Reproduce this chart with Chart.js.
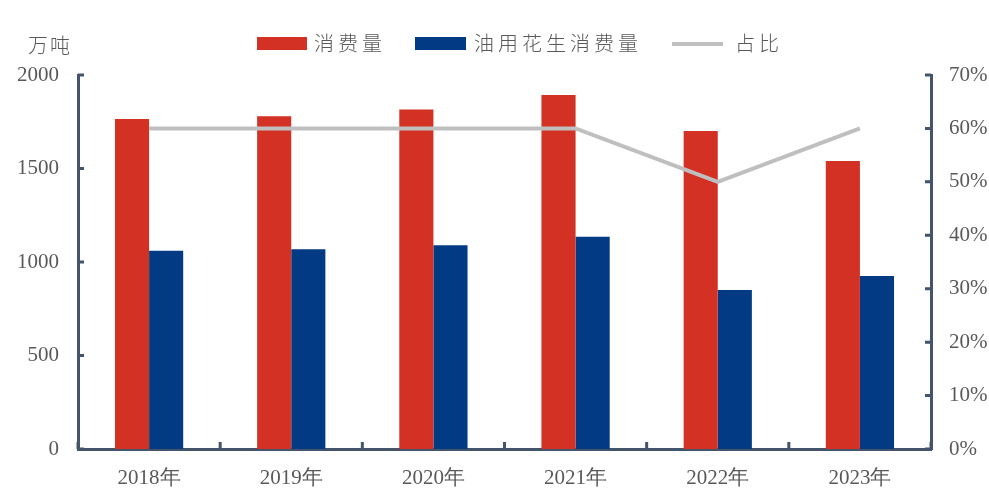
<!DOCTYPE html>
<html>
<head>
<meta charset="utf-8">
<script src="https://cdn.jsdelivr.net/npm/chart.js@4/dist/chart.umd.min.js"></script>
<style>
  html, body { margin: 0; padding: 0; background: #fff; }
  #wrap { position: relative; width: 989px; height: 492px; }
  .lbl { position: absolute; font-family: "Noto Sans CJK SC", sans-serif; font-weight: 300; color: #595959; font-size: 20px; white-space: nowrap; line-height: 1; }
  .sw { position: absolute; }
</style>
</head>
<body>
<div id="wrap">
  <canvas id="chart" width="989" height="492"></canvas>
  <div class="lbl" style="left:28px;top:35px;letter-spacing:2px;">万吨</div>
  <div class="sw" style="left:257px;top:37px;width:50px;height:13px;background:#d33124;"></div>
  <div class="lbl" style="left:314px;top:33px;letter-spacing:4px;">消费量</div>
  <div class="sw" style="left:415px;top:37px;width:51px;height:13px;background:#023a84;"></div>
  <div class="lbl" style="left:474px;top:33px;letter-spacing:4px;">油用花生消费量</div>
  <div class="sw" style="left:672px;top:42px;width:51px;height:4px;background:#bfbfbf;"></div>
  <div class="lbl" style="left:735px;top:33px;letter-spacing:4px;">占比</div>
</div>
<script>
/* ================================================
   DATA
================================================ */

const years       = ['2018年', '2019年', '2020年', '2021年', '2022年', '2023年'];
const consumption = [1765, 1780, 1815, 1893, 1700, 1540];
const oilPeanut   = [1060, 1068, 1090, 1135, 850, 925];
const sharePct    = [60, 60, 60, 60, 50, 60];

/* ================================================
   STYLE
================================================ */

const AXIS  = '#44546a';
const TEXT  = '#595959';
const SERIF = '"Liberation Serif", "Times New Roman", serif';

/* inward tick marks, drawn by hand */
const innerTicks = {
  id: 'innerTicks',
  afterDraw(chart) {
    const { ctx, chartArea: a, scales } = chart;
    ctx.save();
    ctx.strokeStyle = AXIS;
    ctx.lineWidth = 3;
    ctx.beginPath();
    scales.y.ticks.forEach(t => {
      const y = scales.y.getPixelForValue(t.value);
      ctx.moveTo(a.left, y); ctx.lineTo(a.left + 6, y);
    });
    scales.y1.ticks.forEach(t => {
      const y = scales.y1.getPixelForValue(t.value);
      ctx.moveTo(a.right, y); ctx.lineTo(a.right - 6, y);
    });
    const step = (a.right - a.left) / years.length;
    for (let i = 0; i <= years.length; i++) {
      const x = a.left + step * i;
      ctx.moveTo(x, a.bottom); ctx.lineTo(x, a.bottom - 7);
    }
    ctx.stroke();
    ctx.restore();
  },
};

new Chart(document.getElementById('chart').getContext('2d'), {
  type: 'bar',
  data: {
    labels: years,
    datasets: [
      {
        type:            'line',
        label:           '占比',
        data:            sharePct,
        yAxisID:         'y1',
        borderColor:     '#bfbfbf',
        borderWidth:     4,
        pointRadius:     0,
        tension:         0,
        fill:            false,
        order:           0,
      },
      {
        label:              '消费量',
        data:               consumption,
        yAxisID:            'y',
        backgroundColor:    '#d33124',
        categoryPercentage: 0.48,
        barPercentage:      1,
        order:              1,
      },
      {
        label:              '油用花生消费量',
        data:               oilPeanut,
        yAxisID:            'y',
        backgroundColor:    '#023a84',
        categoryPercentage: 0.48,
        barPercentage:      1,
        order:              1,
      },
    ],
  },
  options: {
    responsive: false,
    animation:  false,
    layout: { padding: { top: 75, left: 0, right: 0, bottom: 0 } },
    plugins: {
      legend:  { display: false },
      tooltip: { enabled: false },
    },
    scales: {
      x: {
        grid:   { display: false, drawTicks: false },
        border: { color: AXIS, width: 3 },
        ticks:  { color: TEXT, font: { family: SERIF, size: 21 }, padding: 17, maxRotation: 0 },
        afterFit: s => { s.height = 43; },
      },
      y: {
        position: 'left',
        min: 0, max: 2000,
        grid:   { display: false, drawTicks: false },
        border: { color: AXIS, width: 3 },
        ticks:  { stepSize: 500, color: TEXT, font: { family: SERIF, size: 21 }, padding: 19, callback: v => String(v) },
        afterFit: s => { s.width = 78; },
      },
      y1: {
        position: 'right',
        min: 0, max: 70,
        grid:   { display: false, drawTicks: false },
        border: { color: AXIS, width: 3 },
        ticks:  {
          stepSize: 10, color: TEXT, font: { family: SERIF, size: 21 }, padding: 18,
          callback: v => v + '%',
        },
        afterFit: s => { s.width = 58; },
      },
    },
  },
  plugins: [innerTicks],
});
</script>
</body>
</html>
